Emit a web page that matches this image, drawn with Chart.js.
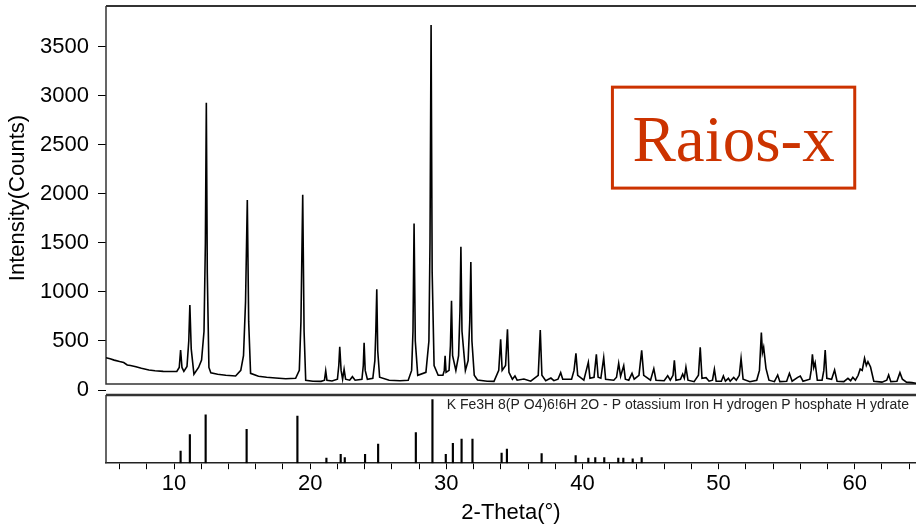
<!DOCTYPE html>
<html><head><meta charset="utf-8">
<script src="https://cdn.jsdelivr.net/npm/chart.js@4"></script>
<style>
html,body{margin:0;padding:0;background:#fff;overflow:hidden;}
#wrap{position:relative;width:916px;height:527px;background:#fff;}
#topChart{position:absolute;left:0;top:0;}
#bottomChart{position:absolute;left:0;top:390px;}
</style></head><body>
<div id="wrap">
<canvas id="topChart" width="916" height="404"></canvas>
<canvas id="bottomChart" width="916" height="137"></canvas>
</div>
<script>
// ---- measured pattern (2-Theta in degrees, intensity in counts) ----
const twoTheta = [
  5.00,5.3,5.6,6.0,6.3,6.56,6.8,7.2,7.6,8.15,
  8.6,9.2,9.8,10.2,10.38,10.48,10.58,10.72,10.95,11.08,
  11.16,11.26,11.46,11.8,12.02,12.2,12.30,12.37,12.44,12.56,
  12.7,13.2,13.8,14.52,14.9,15.1,15.25,15.38,15.48,15.62,
  16.2,16.8,17.46,18.2,18.93,19.2,19.32,19.45,19.55,19.67,
  20.2,20.8,21.05,21.14,21.23,21.6,22.0,22.1,22.17,22.27,
  22.38,22.49,22.6,22.9,23.1,23.3,23.8,23.9,23.96,24.04,
  24.2,24.6,24.75,24.82,24.89,24.96,25.1,25.8,26.6,27.2,
  27.45,27.55,27.63,27.72,27.9,28.5,28.72,28.8,28.88,28.96,
  29.1,29.4,29.75,29.85,29.91,29.98,30.2,30.3,30.38,30.46,
  30.7,30.9,31.0,31.07,31.15,31.4,31.6,31.72,31.8,31.88,
  32.05,32.29,33.0,33.5,33.85,33.99,34.1,34.35,34.49,34.6,
  34.85,35.04,35.2,35.7,36.2,36.75,36.9,37.02,37.3,37.68,
  37.9,38.2,38.4,38.55,39.2,39.38,39.52,39.65,40.1,40.43,
  40.55,40.85,41.02,41.15,41.35,41.56,41.7,42.3,42.5,42.66,
  42.8,43.03,43.15,43.4,43.64,43.8,44.15,44.35,44.5,45.0,
  45.24,45.4,46.0,46.26,46.45,46.65,46.75,46.87,47.2,47.36,
  47.48,47.6,47.75,48.2,48.52,48.65,48.78,49.08,49.3,49.55,
  49.69,49.82,50.2,50.35,50.5,50.72,50.85,51.11,51.3,51.52,
  51.65,51.8,52.3,52.8,53.0,53.14,53.22,53.31,53.48,53.7,
  54.1,54.34,54.5,55.0,55.2,55.4,55.81,56.0,56.2,56.7,
  56.8,56.89,56.99,57.09,57.25,57.6,57.73,57.83,57.95,58.3,
  58.52,58.7,59.2,59.5,59.7,59.86,60.05,60.25,60.4,60.55,
  60.72,60.85,60.97,61.16,61.4,62.0,62.35,62.49,62.65,63.1,
  63.32,63.5,63.8,64.2,64.52
];
const counts = [
  330,318,305,290,280,255,250,238,222,204,
  196,190,188,190,230,408,230,190,240,500,
  867,420,160,230,306,600,1500,2931,1200,230,
  175,160,150,143,200,350,900,1938,700,170,
  140,130,122,115,120,200,700,1992,600,100,
  90,88,100,195,100,92,110,250,442,200,
  110,211,110,100,136,100,110,250,483,200,
  110,120,300,600,1027,400,130,100,95,100,
  200,600,1700,500,150,180,500,1500,3723,1200,
  250,150,150,200,350,180,200,450,911,350,
  200,350,800,1462,600,200,300,700,1306,500,
  150,102,90,88,200,517,200,250,619,180,
  110,143,100,112,90,150,612,150,95,122,
  95,110,177,110,110,200,374,150,100,282,
  120,130,364,130,120,330,110,100,130,272,
  140,248,110,100,170,110,150,405,150,100,
  218,100,95,146,100,150,303,100,110,163,
  120,231,100,85,150,435,120,126,90,100,
  211,90,90,143,90,119,90,129,100,150,
  323,110,85,100,200,585,380,435,221,100,
  85,153,85,90,170,90,129,143,90,110,
  200,364,230,279,100,100,200,408,120,110,
  204,90,85,119,95,129,100,150,214,200,
  323,250,289,235,90,80,100,153,85,90,
  177,110,80,75,68
];
// ---- reference card sticks (2-Theta, relative intensity %) ----
const stickTheta = [10.48,11.16,12.32,15.33,19.06,21.19,22.24,22.54,24.03,24.99,27.76,28.98,29.96,30.48,31.12,31.92,34.06,34.45,37.0,39.5,40.43,40.94,41.6,42.63,43.0,43.69,44.35];
const stickIntensity = [19,45,76,53,74,8,14,9,14,30,48,100,14,31,38,38,16,22,15,12,8,9,9,8,8,7,9];

// ---- axis ticks ----
const yTickValues = [0,500,1000,1500,2000,2500,3000,3500];
const xTickValues = [6,8,10,12,14,16,18,20,22,24,26,28,30,32,34,36,38,40,42,44,46,48,50,52,54,56,58,60,62,64];
const xTickLabels = [10,20,30,40,50,60];

const yTitle = "Intensity(Counts)";
const xTitle = "2-Theta(°)";
const phaseLabel = "K Fe3H 8(P O4)6!6H 2O - P otassium Iron H ydrogen P hosphate H ydrate";
const stampText = "Raios-x";

const SANS = "'Liberation Sans', Arial, sans-serif";
const FRAME = '#333333';
const STAMP = '#cc3300';
const FRAME_FLOOR = 60;   // counts level of the upper panel's bottom frame line

const topFrame = {
  id: 'topFrame',
  beforeDatasetsDraw(chart) {
    const {ctx, chartArea: a, scales: {y}} = chart;
    const fb = y.getPixelForValue(FRAME_FLOOR);
    ctx.save();
    ctx.strokeStyle = FRAME;
    ctx.lineWidth = 2;
    ctx.beginPath(); ctx.moveTo(a.left, a.top); ctx.lineTo(a.right, a.top); ctx.stroke();
    ctx.lineWidth = 1.5;
    ctx.beginPath(); ctx.moveTo(a.left, a.top); ctx.lineTo(a.left, fb); ctx.lineTo(a.right, fb); ctx.stroke();
    ctx.restore();
  },
  afterDraw(chart) {
    const {ctx, scales: {x, y}} = chart;
    const l = x.getPixelForValue(42.2), r = x.getPixelForValue(60.0);
    const t = y.getPixelForValue(3090), b = y.getPixelForValue(2060);
    ctx.save();
    ctx.strokeStyle = STAMP; ctx.lineWidth = 3;
    ctx.strokeRect(l, t, r - l, b - t);
    ctx.fillStyle = STAMP;
    ctx.font = "65px 'Liberation Serif', 'Times New Roman', serif";
    ctx.textAlign = 'center'; ctx.textBaseline = 'alphabetic';
    ctx.fillText(stampText, (l + r) / 2, t + (b - t) * 0.73);
    ctx.restore();
  }
};

const bottomFrame = {
  id: 'bottomFrame',
  afterDatasetsDraw(chart) {
    const {ctx, chartArea: a, scales: {x}} = chart;
    ctx.save();
    ctx.strokeStyle = FRAME;
    ctx.lineWidth = 2.5;
    ctx.beginPath(); ctx.moveTo(a.left, a.top); ctx.lineTo(a.right, a.top); ctx.stroke();
    ctx.lineWidth = 1.5;
    ctx.beginPath(); ctx.moveTo(a.left, a.top); ctx.lineTo(a.left, a.bottom); ctx.stroke();
    ctx.fillStyle = '#222';
    ctx.font = "14px " + SANS;
    ctx.textAlign = 'left'; ctx.textBaseline = 'middle';
    ctx.fillText(phaseLabel, x.getPixelForValue(29.0) + 14, a.top + 10);
    ctx.restore();
  }
};

new Chart(document.getElementById('topChart'), {
  type: 'line',
  data: {
    datasets: [{
      data: twoTheta.map((t, i) => ({x: t, y: counts[i]})),
      borderColor: '#000', borderWidth: 1.6, pointRadius: 0, tension: 0, fill: false
    }]
  },
  options: {
    responsive: false, animation: false,
    layout: {padding: {top: 6, bottom: 14, left: 0, right: 0}},
    plugins: {legend: {display: false}, tooltip: {enabled: false}},
    scales: {
      x: {type: 'linear', min: 5, max: 64.5, display: false},
      y: {
        min: 0, max: 3918,
        afterBuildTicks(s) { s.ticks = yTickValues.map(v => ({value: v})); },
        afterFit(s) { s.width = 106; s.paddingTop = 0; s.paddingBottom = 0; },
        ticks: {padding: 9, color: '#000', font: {family: SANS, size: 22},
                callback: v => String(v)},
        grid: {drawOnChartArea: false, drawTicks: true, tickLength: 8, color: '#000', lineWidth: 1},
        border: {display: false},
        title: {display: true, text: yTitle, color: '#000', padding: {top: 5, bottom: 0},
                font: {family: SANS, size: 22}}
      }
    }
  },
  plugins: [topFrame]
});

new Chart(document.getElementById('bottomChart'), {
  type: 'bar',
  data: {
    datasets: [{
      data: stickTheta.map((t, i) => ({x: t, y: stickIntensity[i]})),
      backgroundColor: '#000', borderWidth: 0, barThickness: 1.5
    }]
  },
  options: {
    responsive: false, animation: false,
    layout: {padding: {top: 5, bottom: 0, left: 106, right: 0}},
    plugins: {legend: {display: false}, tooltip: {enabled: false}},
    scales: {
      x: {
        type: 'linear', min: 5, max: 64.5, offset: false,
        afterBuildTicks(s) { s.ticks = xTickValues.map(v => ({value: v})); },
        afterFit(s) { s.paddingLeft = 0; s.paddingRight = 0; },
        ticks: {autoSkip: false, maxRotation: 0, padding: 2,
                color: '#000', font: {family: SANS, size: 22},
                callback: v => (xTickLabels.includes(v) ? String(v) : '')},
        grid: {offset: false, drawOnChartArea: false, drawTicks: true, tickLength: 6, color: '#000', lineWidth: 1},
        border: {display: true, color: '#222', width: 1.5},
        title: {display: true, text: xTitle, color: '#000', padding: {top: 0, bottom: 1},
                font: {family: SANS, size: 22}}
      },
      y: {min: 0, max: 107, display: false}
    }
  },
  plugins: [bottomFrame]
});
</script>
</body></html>
